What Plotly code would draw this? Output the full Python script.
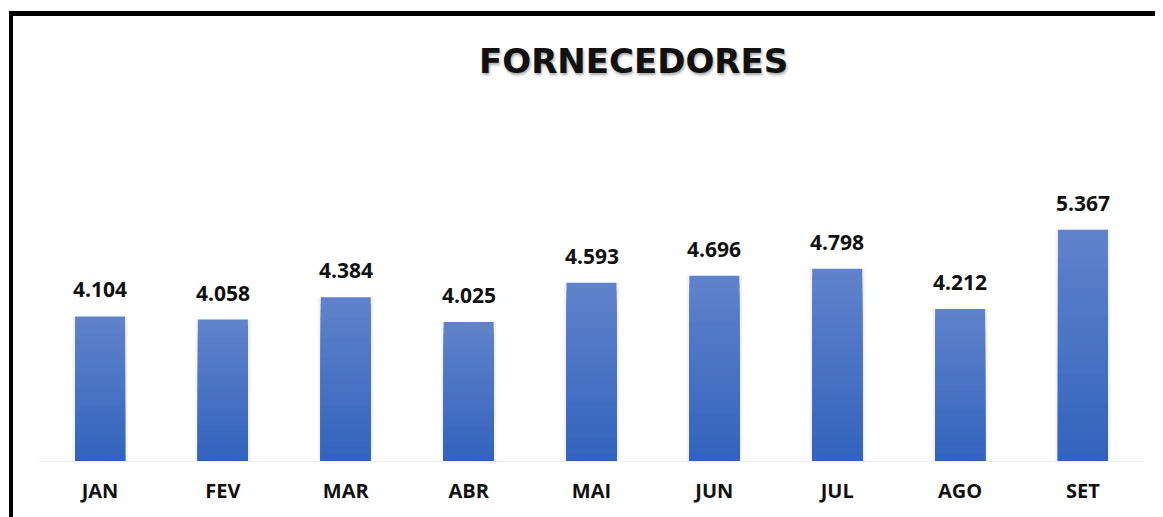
import plotly.graph_objects as go

months = ["JAN", "FEV", "MAR", "ABR", "MAI", "JUN", "JUL", "AGO", "SET"]
values = [4.104, 4.058, 4.384, 4.025, 4.593, 4.696, 4.798, 4.212, 5.367]
labels = ["4.104", "4.058", "4.384", "4.025", "4.593", "4.696", "4.798", "4.212", "5.367"]
title_text = "FORNECEDORES"

W, H = 1163, 517
OFF = 8  # page body margin
axis_min, axis_max = 2, 6
px_per_unit = 68.7


def px(x):
    return (x - OFF) / W


def py(y):
    return 1 - (y - OFF) / H


top_rgb = (97, 131, 203)
bot_rgb = (50, 99, 189)

fig = go.Figure()

# soft shadow behind bars
fig.add_trace(go.Bar(
    x=months, y=[v - axis_min for v in values], base=axis_min,
    width=0.45, marker=dict(color="rgba(0,0,0,0.05)", line=dict(width=0)),
    hoverinfo="skip", showlegend=False))

N = 24
for k in range(N):
    frac_top = 1 - k / N
    f = 1 - (k + 0.5) / N
    c = tuple(round(bot_rgb[i] + (top_rgb[i] - bot_rgb[i]) * f) for i in range(3))
    fig.add_trace(go.Bar(
        x=months,
        y=[(v - axis_min) * frac_top for v in values],
        base=axis_min,
        width=0.407,
        marker=dict(color="rgb(%d,%d,%d)" % c, line=dict(width=0)),
        hoverinfo="skip", showlegend=False))

for m, v, t in zip(months, values, labels):
    fig.add_annotation(x=m, y=v, text=t, showarrow=False, yanchor="bottom",
                       yshift=11, font=dict(family="Open Sans", size=21, color="#111111", weight="bold"))

fig.add_annotation(xref="paper", yref="paper", x=px(633), y=py(61), text=title_text,
                   showarrow=False, xanchor="center", yanchor="middle",
                   font=dict(family="DejaVu Sans", size=34, color="#111111", weight="bold",
                             shadow="1px 2px 3px rgba(0,0,0,0.35)"))

# frame lines (top and left)
fig.add_shape(type="rect", xref="paper", yref="paper", x0=px(9), x1=1, y0=py(16), y1=py(11),
              fillcolor="#000000", line=dict(width=0), layer="above")
fig.add_shape(type="rect", xref="paper", yref="paper", x0=px(9), x1=px(13), y0=0, y1=py(11),
              fillcolor="#000000", line=dict(width=0), layer="above")

base_px = 461
fig.update_layout(
    width=W, height=H,
    margin=dict(l=0, r=0, t=0, b=0),
    paper_bgcolor="white", plot_bgcolor="white",
    barmode="overlay",
    showlegend=False,
    xaxis=dict(domain=[px(38.6), px(1144.4)], showgrid=False, zeroline=False,
               showline=True, linecolor="#ececec", linewidth=1,
               tickfont=dict(family="Open Sans", size=20, color="#111111", weight="bold"),
               ticks="", ticklabelstandoff=12, fixedrange=True),
    yaxis=dict(domain=[py(base_px), py(base_px - (axis_max - axis_min) * px_per_unit)],
               range=[axis_min, axis_max], visible=False, fixedrange=True),
)

fig.write_html("out.html")
